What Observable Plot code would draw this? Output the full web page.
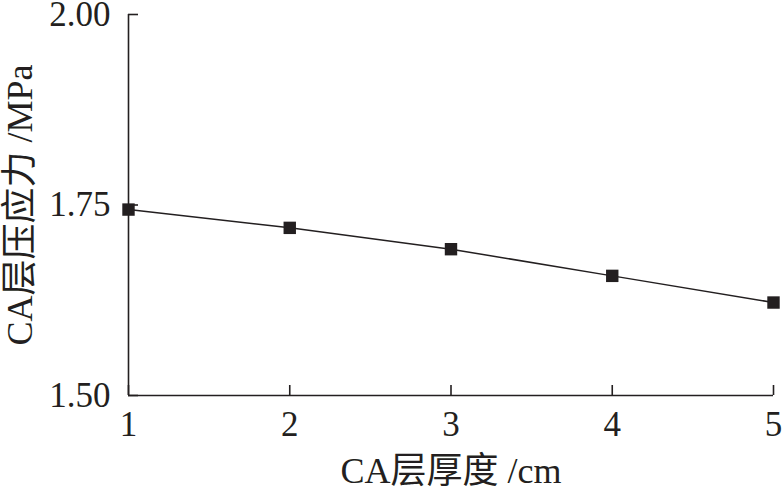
<!DOCTYPE html>
<html><head><meta charset="utf-8">
<script src="https://cdn.jsdelivr.net/npm/d3@7"></script>
<script src="https://cdn.jsdelivr.net/npm/@observablehq/plot@0.6"></script>
<style>body{margin:0;background:#fff}</style>
</head><body><div id="chart"></div>
<script>
const thickness = [1, 2, 3, 4, 5];
const stress = [1.744, 1.720, 1.692, 1.657, 1.622];
const yTicks = [1.50, 1.75, 2.00];
const xTicks = [1, 2, 3, 4, 5];
const xLabel = "CA层厚度 /cm";
const yLabel = "CA层压应力 /MPa";

const W = 783, H = 492, mL = 128, mR = 10, mT = 14, mB = 97;
const ink = "#231f20";
const font = "'Liberation Serif','Noto Sans CJK SC',serif";
const data = thickness.map((t, i) => ({t, s: stress[i]}));

const chart = Plot.plot({
  width: W, height: H,
  marginLeft: mL, marginRight: mR, marginTop: mT, marginBottom: mB,
  x: {domain: [1, 5]},
  y: {domain: [1.5, 2.0]},
  style: {fontFamily: font, fontSize: "35px", color: ink, background: "white", overflow: "visible"},
  marks: [
    Plot.axisX({ticks: xTicks, tickSize: 0, tickPadding: 16, tickFormat: d => String(d), label: null, fontSize: 35}),
    Plot.axisY({ticks: yTicks, tickSize: 0, tickPadding: 18, tickFormat: d3.format(".2f"), label: null, fontSize: 35}),
    Plot.ruleX([1], {stroke: ink, strokeWidth: 1.6}),
    Plot.ruleY([1.5], {stroke: ink, strokeWidth: 1.6}),
    Plot.tickX(xTicks, {x: d => d, stroke: ink, strokeWidth: 1.6, insetTop: H - mT - mB - 10}),
    Plot.tickY(yTicks, {y: d => d, stroke: ink, strokeWidth: 1.6, insetRight: W - mL - mR - 10}),
    Plot.line(data, {x: "t", y: "s", stroke: ink, strokeWidth: 1.5}),
    Plot.dot(data, {x: "t", y: "s", symbol: "square", r: 7, fill: ink, stroke: "none"}),
    Plot.text([xLabel], {frameAnchor: "bottom", textAnchor: "middle", dy: 76, fontSize: 36, fill: ink, lineAnchor: "middle"}),
    Plot.text([yLabel], {frameAnchor: "left", textAnchor: "middle", dx: -108, rotate: -90, fontSize: 36, fill: ink, lineAnchor: "middle"})
  ]
});
document.getElementById("chart").appendChild(chart);
</script>
</body></html>
